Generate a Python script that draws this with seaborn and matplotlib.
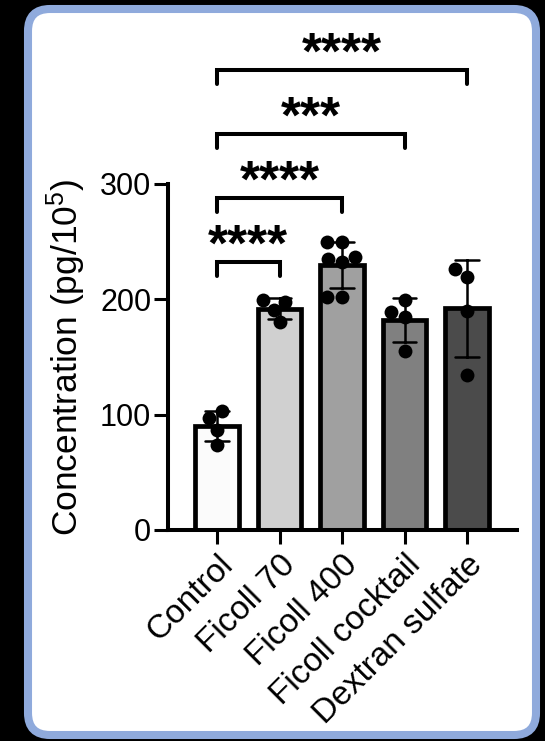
import matplotlib
matplotlib.use("Agg")
import matplotlib.pyplot as plt
from matplotlib.patches import FancyBboxPatch
import numpy as np
import pandas as pd
import seaborn as sns

# Groups and individual measurements (pg per 10^5 cells)
groups = ["Control", "Ficoll 70", "Ficoll 400", "Ficoll cocktail", "Dextran sulfate"]
control = [97, 103, 87, 74]
ficoll_70 = [199, 198, 191, 180]
ficoll_400 = [250, 250, 235, 237, 232, 202, 202]
ficoll_cocktail = [199, 189, 185, 155]
dextran_sulfate = [226, 219, 190, 134]
bar_colors = ["#fbfbfb", "#d0d0d0", "#a0a0a0", "#808080", "#4b4b4b"]

# Pairwise comparisons against Control and their significance labels
comparisons = [(0, 1), (0, 2), (0, 3), (0, 4)]
sig_labels = ["****", "****", "***", "****"]

yticks = [0, 100, 200, 300]

values = [control, ficoll_70, ficoll_400, ficoll_cocktail, dextran_sulfate]
df = pd.DataFrame({
    "group": np.repeat(groups, [len(v) for v in values]),
    "value": np.concatenate(values),
})

sns.set_style("ticks")
plt.rcParams["font.family"] = ["Liberation Sans", "DejaVu Sans"]
plt.rcParams["mathtext.fontset"] = "custom"
plt.rcParams["mathtext.rm"] = "Liberation Sans"
plt.rcParams["mathtext.it"] = "Liberation Sans:italic"
plt.rcParams["mathtext.bf"] = "Liberation Sans:bold"
for key in ("text.color", "axes.labelcolor", "xtick.color", "ytick.color",
            "axes.edgecolor"):
    plt.rcParams[key] = "black"

fig = plt.figure(figsize=(5.45, 7.41), dpi=100, facecolor="black")

# Rounded white card behind the chart
card = FancyBboxPatch((0.28, 0.06), 5.08, 7.26,
                      boxstyle="round,pad=0,rounding_size=0.22",
                      transform=fig.dpi_scale_trans,
                      facecolor="white", edgecolor="#8FAADC",
                      linewidth=5.8, zorder=-5)
fig.patches.append(card)

ax = fig.add_axes([0.3083, 0.2848, 0.6404, 0.4669])
ax.set_facecolor("none")

sns.barplot(data=df, x="group", y="value", order=groups, hue="group",
            hue_order=groups, palette=bar_colors, legend=False,
            errorbar="sd", capsize=0.37, width=0.7,
            edgecolor="black", linewidth=3.4,
            err_kws={"color": "black", "linewidth": 1.8}, ax=ax)
sns.swarmplot(data=df, x="group", y="value", order=groups, color="black",
              size=10, linewidth=0, ax=ax, zorder=5)

ax.set_xlim(-0.784, 4.8)
ax.set_ylim(0, 300)
ax.set_yticks(yticks)
ax.set_xlabel("")
ax.set_ylabel("Concentration (pg/10$^{5}$)", fontsize=25.5, labelpad=9)
sns.despine(ax=ax)
for side in ("left", "bottom"):
    ax.spines[side].set_linewidth(2.9)
ax.tick_params(axis="both", direction="out", length=10, width=2.2, color="black")
ax.tick_params(axis="y", labelsize=22, pad=2)
ax.tick_params(axis="x", labelsize=24, pad=4)
for lab in ax.get_xticklabels():
    lab.set_rotation(45)
    lab.set_ha("right")
    lab.set_va("top")
    lab.set_rotation_mode("anchor")

# Significance brackets above the bars
base, step, drop = 232, 55.5, 12
for i, ((a, b), lab) in enumerate(zip(comparisons, sig_labels)):
    h = base + i * step
    ax.plot([a, a, b, b], [h - drop, h, h, h - drop], color="black",
            linewidth=2.9, clip_on=False, solid_capstyle="round",
            solid_joinstyle="miter")
    ax.annotate(lab, xy=((a + b) / 2, h), xytext=(0, 1.5),
                textcoords="offset points", ha="center", va="baseline",
                fontsize=37, fontweight="bold", annotation_clip=False)

fig.savefig("out.png", dpi=100, facecolor="black")
